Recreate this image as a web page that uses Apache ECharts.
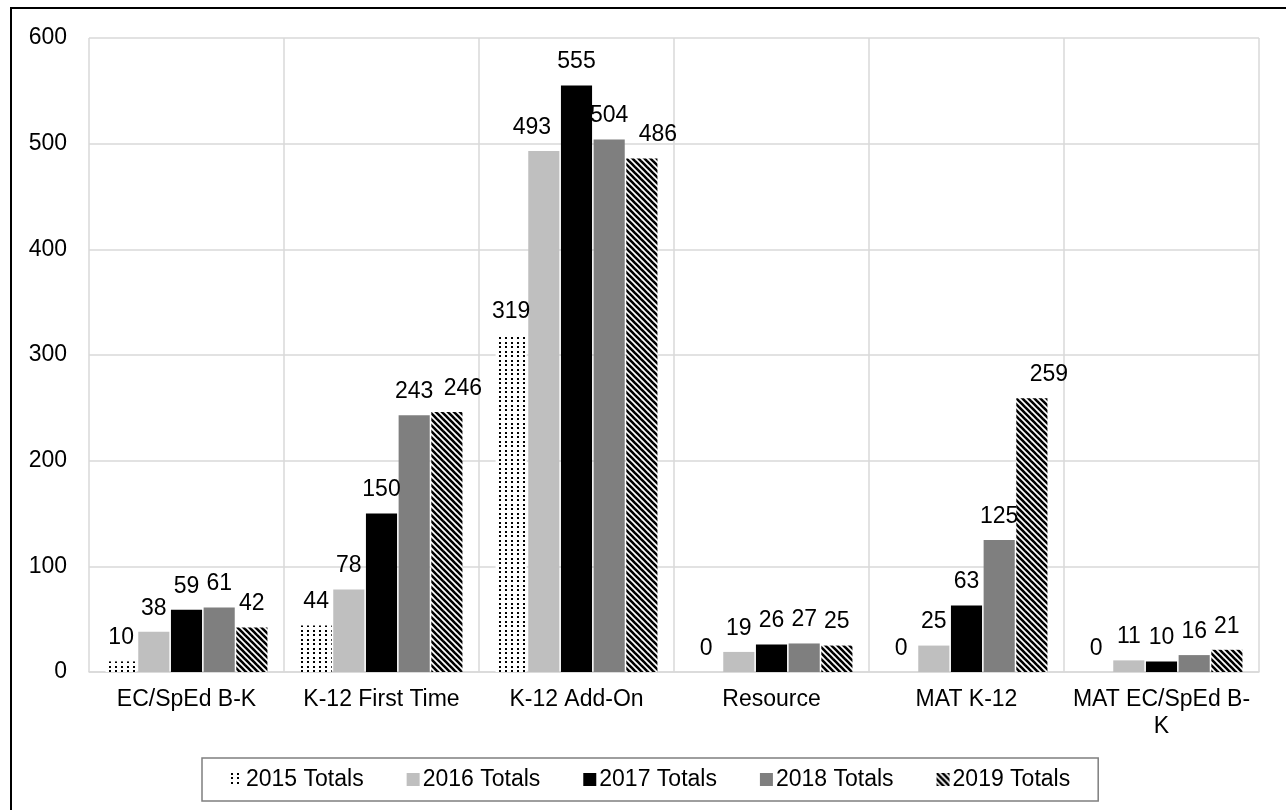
<!DOCTYPE html>
<html>
<head>
<meta charset="utf-8">
<style>
  html, body { margin: 0; padding: 0; background: #fff; }
  #chart { width: 1286px; height: 810px; }
</style>
<script src="https://cdn.jsdelivr.net/npm/echarts@6/dist/echarts.min.js"></script>
</head>
<body>
<div id="chart"></div>
<script>
// Program categories and yearly totals
const categories = ['EC/SpEd B-K', 'K-12 First Time', 'K-12 Add-On', 'Resource', 'MAT K-12', 'MAT EC/SpEd B-K'];
const seriesNames = ['2015 Totals', '2016 Totals', '2017 Totals', '2018 Totals', '2019 Totals'];
const totals2015 = [10, 44, 319, 0, 0, 0];
const totals2016 = [38, 78, 493, 19, 25, 11];
const totals2017 = [59, 150, 555, 26, 63, 10];
const totals2018 = [61, 243, 504, 27, 125, 16];
const totals2019 = [42, 246, 486, 25, 259, 21];
const yTicks = { min: 0, max: 600, interval: 100 };

const FONT = '"Liberation Sans", Arial, sans-serif';
const FS = 23;

// Nudges for value labels that would otherwise crowd their neighbours
// (key: series index, category index -> [dx, dy] in pixels)
const labelNudge = {
  '4,1': [16, 0],
  '4,2': [16, 0],
  '4,4': [17, 0],
  '1,2': [-12, 0]
};

// Dotted fill tile
function dotPattern() {
  const c = document.createElement('canvas');
  c.width = 6; c.height = 9;
  const g = c.getContext('2d');
  g.fillStyle = '#fff';
  g.fillRect(0, 0, 6, 9);
  g.fillStyle = '#000';
  g.fillRect(1, 0, 2, 2);
  g.fillRect(1, 4, 2, 2);
  return c;
}

// Diagonal stripe fill tile (top-left to bottom-right)
function stripePattern() {
  const c = document.createElement('canvas');
  c.width = 6; c.height = 6;
  const g = c.getContext('2d');
  g.fillStyle = '#fff';
  g.fillRect(0, 0, 6, 6);
  g.strokeStyle = '#000';
  g.lineWidth = 2.6;
  for (let k = -1; k <= 1; k++) {
    g.beginPath();
    g.moveTo(k * 6 - 1, -1);
    g.lineTo(k * 6 + 7, 7);
    g.stroke();
  }
  return c;
}

const fills = [
  { image: dotPattern(), repeat: 'repeat' },
  '#bfbfbf',
  '#000000',
  '#7f7f7f',
  { image: stripePattern(), repeat: 'repeat' }
];
const values = [totals2015, totals2016, totals2017, totals2018, totals2019];

const chart = echarts.init(document.getElementById('chart'), null, { renderer: 'canvas' });

chart.setOption({
  animation: false,
  backgroundColor: '#fff',
  textStyle: { fontFamily: FONT },
  grid: { left: 89, right: 27, top: 38, bottom: 138 },
  legend: {
    left: 202,
    top: 758,
    data: seriesNames,
    icon: 'rect',
    itemWidth: 13,
    itemHeight: 13,
    itemGap: 43,
    padding: [10, 28, 10, 28],
    borderColor: '#7f7f7f',
    borderWidth: 1.5,
    backgroundColor: '#fff',
    textStyle: { fontFamily: FONT, fontSize: FS, color: '#000', padding: [0, 0, 0, -2] }
  },
  xAxis: {
    type: 'category',
    data: categories,
    axisLine: { show: true, lineStyle: { color: '#d9d9d9', width: 1.5 } },
    axisTick: { show: false },
    splitLine: { show: true, interval: 0, lineStyle: { color: '#d9d9d9', width: 1.5 } },
    axisLabel: {
      interval: 0,
      margin: 14,
      fontFamily: FONT,
      fontSize: FS,
      lineHeight: 27,
      color: '#000',
      formatter: v => v === 'MAT EC/SpEd B-K' ? 'MAT EC/SpEd B-\nK' : v
    }
  },
  yAxis: {
    type: 'value',
    min: yTicks.min,
    max: yTicks.max,
    interval: yTicks.interval,
    axisLine: { show: false },
    axisTick: { show: false },
    splitLine: { show: true, lineStyle: { color: '#d9d9d9', width: 1.5 } },
    axisLabel: { margin: 22, fontFamily: FONT, fontSize: FS, color: '#000' }
  },
  series: seriesNames.map((name, i) => ({
    name,
    type: 'bar',
    data: values[i].map((v, j) => {
      const nudge = labelNudge[i + ',' + j];
      return nudge ? { value: v, label: { offset: nudge } } : v;
    }),
    barGap: '5%',
    barCategoryGap: '17%',
    itemStyle: { color: fills[i] },
    label: {
      show: true,
      position: 'top',
      distance: 12,
      fontFamily: FONT,
      fontSize: FS,
      color: '#000'
    }
  })),
  graphic: [
    { type: 'line', shape: { x1: 11, y1: 8, x2: 11, y2: 810 }, style: { stroke: '#000', lineWidth: 2 } },
    { type: 'line', shape: { x1: 10, y1: 8, x2: 1286, y2: 8 }, style: { stroke: '#000', lineWidth: 2 } }
  ]
});
</script>
</body>
</html>
